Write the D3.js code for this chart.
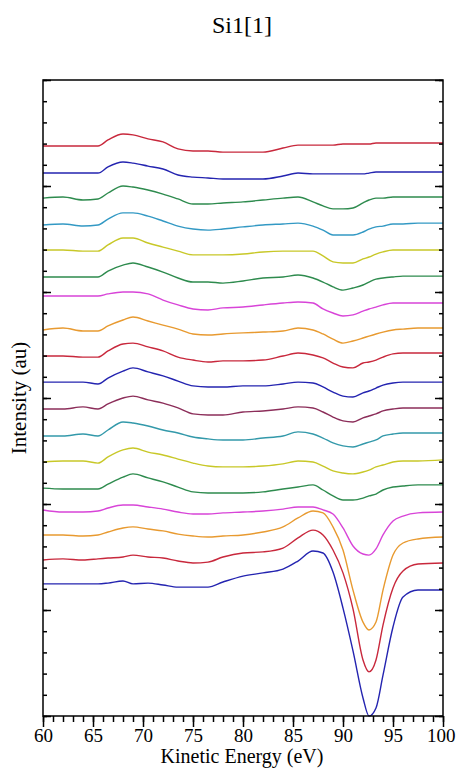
<!DOCTYPE html>
<html>
<head>
<meta charset="utf-8">
<script src="https://cdn.jsdelivr.net/npm/d3@7"></script>
<style>
  body { margin: 0; background: #fff; }
  svg text { font-family: "Liberation Serif", "Times New Roman", Times, serif; fill: #000; }
</style>
</head>
<body>
<svg width="456" height="775"></svg>
<script>
// kinetic energy grid (eV)
const energy = [60, 62, 64, 65.5, 66.5, 68, 69, 70.5, 72, 73.5, 75, 76.5, 78, 80, 82, 84, 85.5, 87, 88, 89, 90, 91, 92, 92.6, 93.3, 94, 95, 96, 97.5, 100];

// stacked spectra, top to bottom (intensity, au)
const s1  = [26.89,26.89,26.89,26.89,27.17,27.45,27.41,27.22,27.08,26.75,26.65,26.65,26.60,26.60,26.60,26.79,26.93,26.93,26.93,26.93,26.98,26.98,26.98,26.98,27.03,27.03,27.03,27.03,27.03,27.03];
const s2  = [25.61,25.61,25.61,25.61,25.90,26.13,26.08,25.94,25.80,25.52,25.42,25.38,25.33,25.33,25.33,25.47,25.61,25.57,25.57,25.57,25.57,25.57,25.57,25.61,25.66,25.66,25.66,25.66,25.66,25.66];
const s3  = [24.43,24.48,24.34,24.39,24.67,25.00,24.95,24.81,24.62,24.39,24.15,24.15,24.20,24.25,24.34,24.43,24.48,24.25,24.06,23.92,23.92,23.96,24.20,24.34,24.43,24.43,24.48,24.48,24.48,24.48];
const s4  = [23.16,23.21,23.11,23.16,23.44,23.73,23.73,23.58,23.35,23.11,22.97,22.92,22.97,23.07,23.16,23.21,23.25,23.11,22.92,22.69,22.69,22.69,22.83,22.97,23.07,23.11,23.21,23.21,23.25,23.25];
const s5  = [21.98,21.98,21.93,21.93,22.22,22.55,22.55,22.31,22.12,21.93,21.75,21.75,21.75,21.79,21.89,21.93,21.93,21.93,21.70,21.42,21.37,21.37,21.56,21.65,21.79,21.89,21.98,21.98,21.98,21.98];
const s6  = [20.71,20.71,20.71,20.71,20.99,21.27,21.37,21.18,20.94,20.66,20.47,20.47,20.42,20.52,20.66,20.71,20.80,20.66,20.47,20.24,20.09,20.19,20.33,20.47,20.61,20.66,20.71,20.75,20.75,20.75];
const s7  = [19.81,19.81,19.81,19.81,19.91,20.00,20.00,19.91,19.62,19.39,19.20,19.15,19.25,19.29,19.39,19.48,19.53,19.48,19.20,19.01,18.87,18.92,19.10,19.20,19.29,19.39,19.48,19.48,19.48,19.48];
const s8  = [18.21,18.30,18.16,18.16,18.40,18.68,18.82,18.63,18.44,18.25,18.02,17.97,18.02,18.07,18.11,18.16,18.30,18.21,18.02,17.78,17.59,17.69,17.83,17.92,18.02,18.11,18.21,18.25,18.30,18.30];
const s9  = [16.98,16.98,16.93,16.93,17.22,17.55,17.59,17.41,17.22,16.93,16.79,16.70,16.75,16.75,16.79,16.98,17.12,17.03,16.89,16.65,16.46,16.42,16.65,16.70,16.79,16.93,17.08,17.12,17.12,17.12];
const s10 = [15.75,15.75,15.75,15.66,15.94,16.27,16.42,16.23,16.04,15.80,15.57,15.52,15.52,15.57,15.57,15.66,15.75,15.71,15.52,15.28,15.09,15.05,15.24,15.33,15.47,15.61,15.71,15.75,15.75,15.75];
const s11 = [14.48,14.48,14.58,14.48,14.72,15.00,15.09,14.91,14.76,14.53,14.25,14.20,14.20,14.34,14.39,14.48,14.58,14.53,14.34,14.10,13.92,13.87,14.06,14.15,14.25,14.39,14.48,14.53,14.53,14.53];
const s12 = [13.21,13.21,13.30,13.21,13.49,13.87,13.82,13.68,13.49,13.35,13.16,13.07,13.02,13.02,13.11,13.21,13.40,13.30,13.11,12.88,12.74,12.69,12.83,12.92,13.02,13.21,13.30,13.35,13.35,13.35];
const s13 = [11.98,12.03,12.03,11.93,12.22,12.55,12.64,12.45,12.31,12.12,11.93,11.79,11.75,11.75,11.79,11.89,12.03,11.98,11.79,11.56,11.46,11.42,11.51,11.60,11.75,11.84,11.98,12.03,12.03,12.08];
const s14 = [10.75,10.71,10.71,10.71,10.94,11.27,11.42,11.23,11.04,10.80,10.57,10.52,10.52,10.52,10.57,10.71,10.80,10.90,10.66,10.38,10.19,10.19,10.28,10.38,10.47,10.66,10.80,10.85,10.90,10.90];
const s15 = [9.72,9.62,9.62,9.67,9.81,9.95,9.95,9.86,9.76,9.62,9.53,9.53,9.58,9.62,9.67,9.76,9.86,9.86,9.72,9.53,8.87,8.02,7.64,7.59,7.88,8.54,9.20,9.43,9.58,9.62];
const s16 = [8.54,8.54,8.49,8.54,8.68,8.87,8.92,8.82,8.73,8.58,8.49,8.44,8.49,8.54,8.68,8.92,9.34,9.67,9.58,8.92,7.83,5.94,4.43,4.06,4.43,5.94,7.59,8.16,8.35,8.44];
const s17 = [7.36,7.41,7.36,7.41,7.45,7.50,7.59,7.50,7.45,7.31,7.22,7.26,7.50,7.69,7.74,7.92,8.40,8.77,8.54,7.83,6.75,5.05,2.64,2.08,2.64,4.29,6.04,6.84,7.17,7.22];
const s18 = [6.23,6.23,6.23,6.23,6.27,6.37,6.23,6.27,6.18,6.08,6.08,6.08,6.32,6.60,6.75,6.93,7.31,7.78,7.69,6.79,5.09,3.07,0.85,0.00,0.38,1.93,4.20,5.61,5.94,5.94];

const spectra = [s1, s2, s3, s4, s5, s6, s7, s8, s9, s10, s11, s12, s13, s14, s15, s16, s17, s18];
const colors = ["#c8283c", "#2424b0", "#2e8b4e", "#3399c4", "#c8c828", "#2e8b4e", "#d844d8", "#e89a30",
                "#c8283c", "#2424b0", "#8c2e5a", "#3399aa", "#c8c828", "#2e8b4e", "#d844d8", "#e89a30",
                "#c8283c", "#2424b0"];

const xMajor = d3.range(60, 101, 5);
const xMinor = d3.range(60, 101, 1);
const yMajor = d3.range(0, 31, 5);
const yMinor = d3.range(0, 31, 1);

const svg = d3.select("svg");
const plotLeft = 43, plotRight = 443, plotTop = 80, plotBottom = 716;

const x = d3.scaleLinear().domain([60, 100]).range([plotLeft, plotRight]);
const y = d3.scaleLinear().domain([0, 30]).range([plotBottom, plotTop]);

const line = d3.line()
  .x((d, i) => x(energy[i]))
  .y(d => y(d))
  .curve(d3.curveMonotoneX);

svg.append("g")
  .selectAll("path")
  .data(spectra)
  .enter()
  .append("path")
  .attr("d", line)
  .attr("fill", "none")
  .attr("stroke", (d, i) => colors[i])
  .attr("stroke-width", 1.4);

// axes
function styleAxis(g) {
  g.attr("font-family", null);
  g.select(".domain").remove();
  g.selectAll(".tick line").attr("stroke", "#000").attr("stroke-width", 1.5);
}

svg.append("g")
  .attr("transform", `translate(0,${plotBottom})`)
  .call(d3.axisBottom(x).tickValues(xMinor).tickSize(6).tickFormat(""))
  .call(styleAxis);

const xAxis = svg.append("g")
  .attr("transform", `translate(0,${plotBottom})`)
  .call(d3.axisBottom(x).tickValues(xMajor).tickSize(11).tickPadding(2).tickFormat(d3.format("d")))
  .call(styleAxis);
xAxis.selectAll("text").attr("font-size", 19);
// keep the last label inside the page edge
xAxis.selectAll("text").filter(d => d === 100).attr("text-anchor", "end").attr("dx", 12);

[[plotLeft, d3.axisRight], [plotRight, d3.axisLeft]].forEach(([px, axis]) => {
  svg.append("g")
    .attr("transform", `translate(${px},0)`)
    .call(axis(y).tickValues(yMinor).tickSize(4).tickFormat(""))
    .call(styleAxis);
  svg.append("g")
    .attr("transform", `translate(${px},0)`)
    .call(axis(y).tickValues(yMajor).tickSize(8).tickFormat(""))
    .call(styleAxis);
});

svg.append("rect")
  .attr("x", plotLeft).attr("y", plotTop)
  .attr("width", plotRight - plotLeft).attr("height", plotBottom - plotTop)
  .attr("fill", "none").attr("stroke", "#000").attr("stroke-width", 1.5);

svg.append("text")
  .attr("x", 242).attr("y", 33)
  .attr("text-anchor", "middle")
  .attr("font-size", 24)
  .text("Si1[1]");

svg.append("text")
  .attr("x", 242).attr("y", 763)
  .attr("text-anchor", "middle")
  .attr("font-size", 20)
  .text("Kinetic Energy (eV)");

svg.append("text")
  .attr("transform", "translate(26,398) rotate(-90)")
  .attr("text-anchor", "middle")
  .attr("font-size", 21)
  .text("Intensity (au)");
</script>
</body>
</html>
